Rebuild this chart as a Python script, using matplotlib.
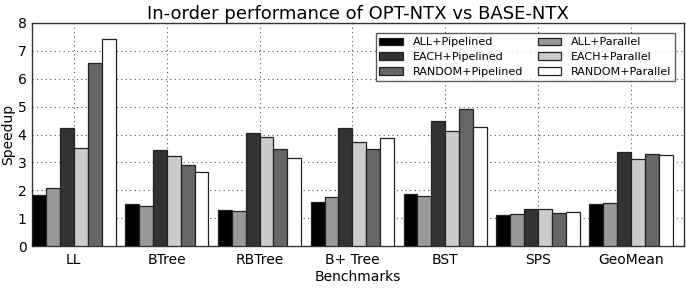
"""In-order performance bar chart: OPT-NTX vs BASE-NTX."""
import numpy as np
import matplotlib
matplotlib.use("Agg")
import matplotlib.pyplot as plt

benchmarks = ["LL", "BTree", "RBTree", "B+ Tree", "BST", "SPS", "GeoMean"]

all_pipelined = [1.83, 1.51, 1.30, 1.59, 1.87, 1.10, 1.52]
all_parallel = [2.07, 1.45, 1.27, 1.75, 1.80, 1.15, 1.56]
each_pipelined = [4.22, 3.44, 4.04, 4.22, 4.48, 1.31, 3.37]
each_parallel = [3.50, 3.23, 3.92, 3.72, 4.12, 1.33, 3.11]
random_pipelined = [6.58, 2.89, 3.47, 3.47, 4.93, 1.17, 3.31]
random_parallel = [7.42, 2.66, 3.14, 3.86, 4.28, 1.23, 3.28]

# series in bar order (left to right inside a group)
series = [
    ("ALL+Pipelined", all_pipelined, "#000000"),
    ("ALL+Parallel", all_parallel, "#999999"),
    ("EACH+Pipelined", each_pipelined, "#333333"),
    ("EACH+Parallel", each_parallel, "#cccccc"),
    ("RANDOM+Pipelined", random_pipelined, "#666666"),
    ("RANDOM+Parallel", random_parallel, "#ffffff"),
]

fig = plt.figure(figsize=(6.86, 2.88), dpi=100)
ax = fig.add_axes([32 / 686, 1 - 246 / 288, (684 - 32) / 686, (246 - 23) / 288])

x = np.arange(len(benchmarks))
width = 0.15
handles = {}
for i, (label, vals, color) in enumerate(series):
    pos = x - 0.45 + width * (i + 0.5)
    bars = ax.bar(pos, vals, width, color=color, edgecolor="#222222",
                  linewidth=0.9, label=label, zorder=3)
    handles[label] = bars

ax.set_xlim(-0.45, 6.57)
ax.set_ylim(0, 8)
ax.set_xticks(x)
ax.set_xticklabels(benchmarks, fontsize=10)
ax.set_yticks(range(0, 9))
ax.tick_params(axis="y", labelsize=10, direction="in", length=0, pad=4)
ax.tick_params(axis="x", direction="in", length=0, pad=5)
ax.grid(True, color="#555555", linestyle=(0, (1, 3)), linewidth=0.8, zorder=0)
ax.set_axisbelow(True)
for sp in ax.spines.values():
    sp.set_linewidth(1.0)
    sp.set_color("#333333")

ax.set_xlabel("Benchmarks", fontsize=10, labelpad=2)
ax.set_ylabel("Speedup", fontsize=10, labelpad=2)
ax.set_title("In-order performance of OPT-NTX vs BASE-NTX", fontsize=13, pad=3)

# legend columns: pipelined first, then parallel
legend_order = ["ALL+Pipelined", "EACH+Pipelined", "RANDOM+Pipelined",
                "ALL+Parallel", "EACH+Parallel", "RANDOM+Parallel"]
leg = ax.legend([handles[k] for k in legend_order], legend_order, ncol=2,
                loc="upper right", bbox_to_anchor=(0.995, 0.978), fontsize=8,
                frameon=True, fancybox=False, edgecolor="#333333",
                handlelength=2.1, handleheight=0.7, columnspacing=1.3,
                borderpad=0.35, labelspacing=0.42, handletextpad=0.9)
leg.get_frame().set_linewidth(1.0)

fig.savefig("out.png", dpi=100)
